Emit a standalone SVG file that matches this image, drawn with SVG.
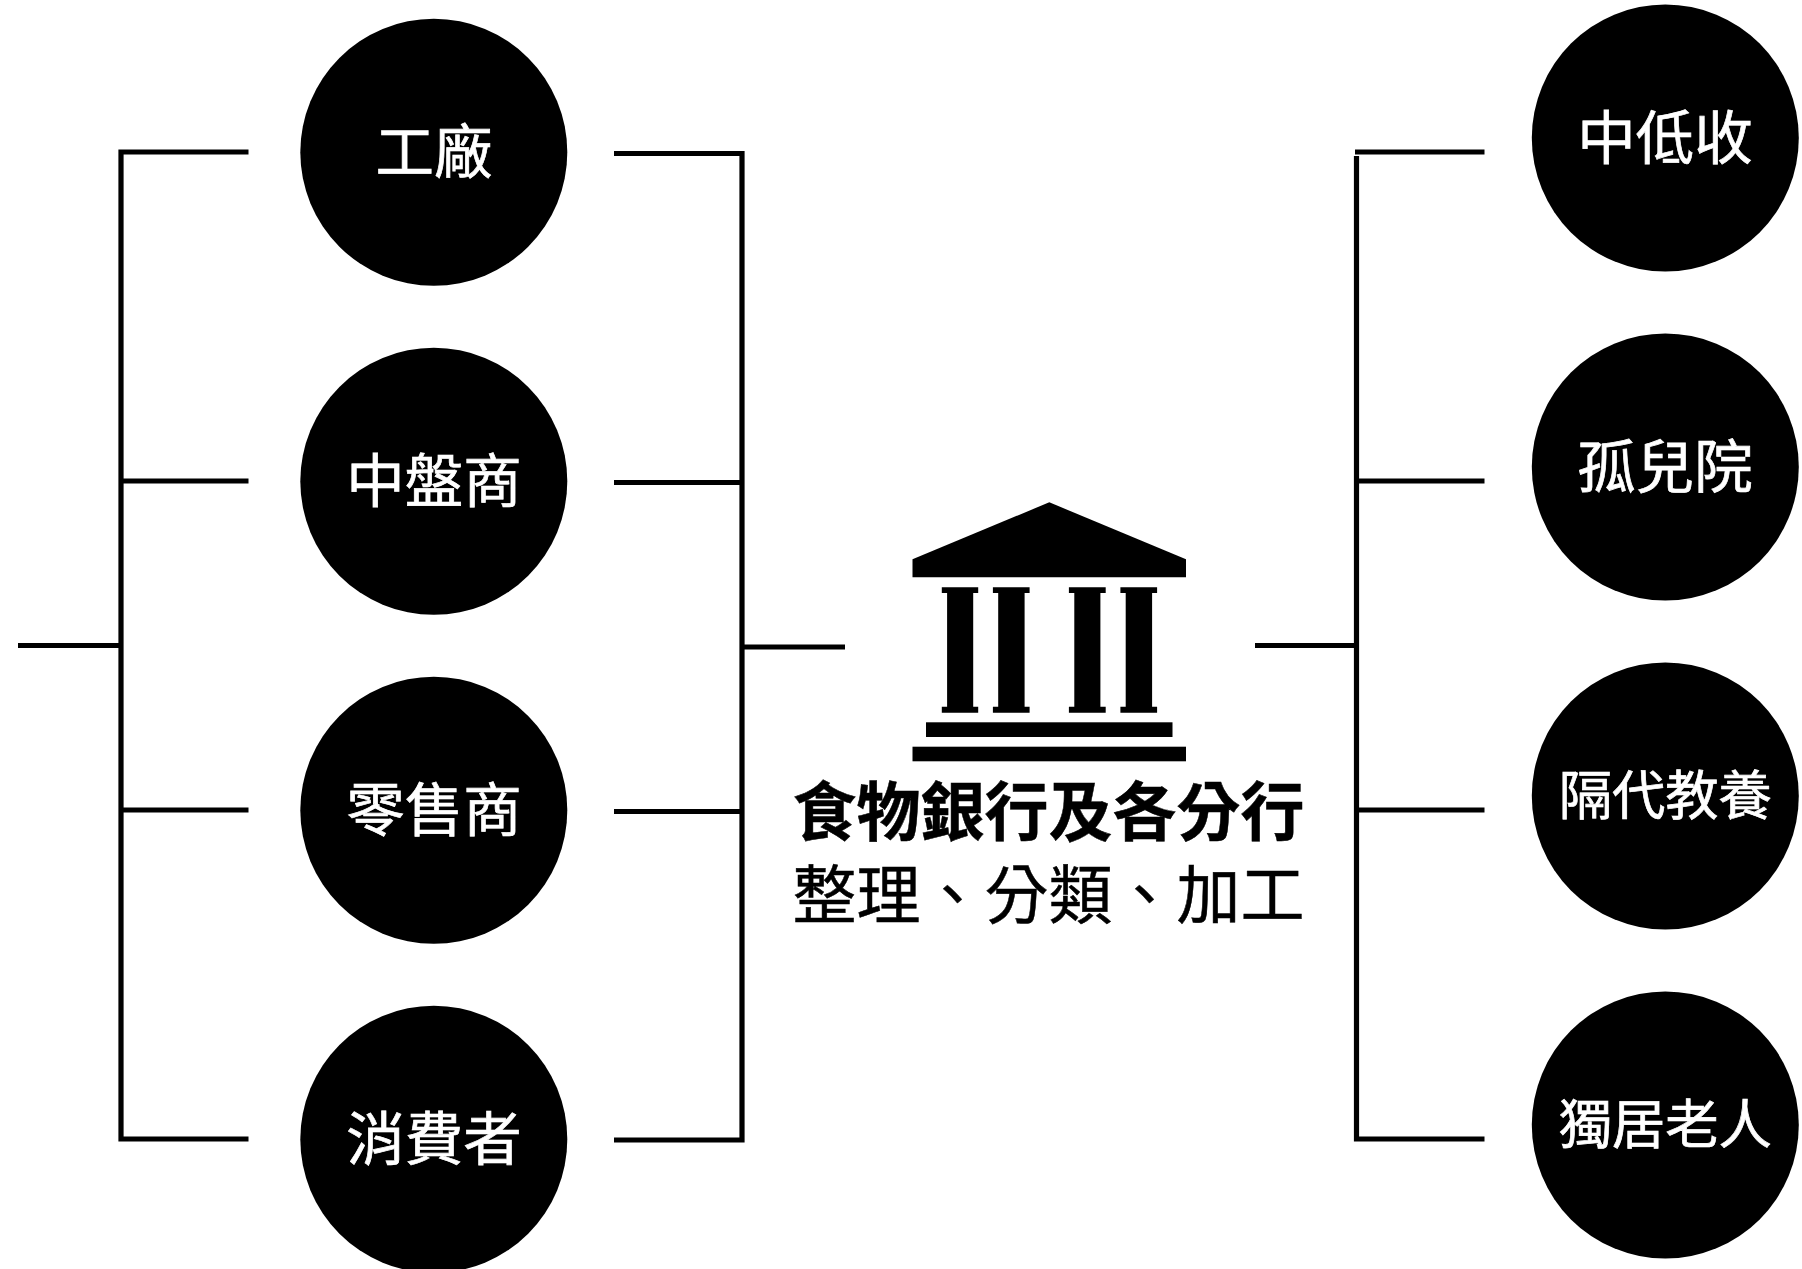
<svg xmlns="http://www.w3.org/2000/svg" width="1802" height="1269" viewBox="0 0 1802 1269">
<style>
.c{fill:#000}
.l{fill:none;stroke:#000;stroke-width:5.200}
text{font-family:"Noto Sans CJK TC","Noto Sans CJK SC",sans-serif;text-anchor:middle}
.n{fill:#fff;stroke:#fff;stroke-width:.7px;font-size:58.500px}
.s{fill:#fff;stroke:#fff;stroke-width:.7px;font-size:53.300px}
.t{fill:#000;font-size:64px}
.r{stroke:#000;stroke-width:.5px}
</style>
<rect width="1802" height="1269" fill="#fff"/>
<g id="connectors" class="l">
<path d="M18 645.500H121M248.500 152H121V1139H248.500M121 481H248.500M121 810H248.500"/>
<path d="M614 153.500H742V1140H614M614 482.500H742M614 811.500H742M742 647H845"/>
<path d="M1484.500 152H1355M1356.500 156V1139H1484.500M1356.500 481H1484.500M1356.500 810H1484.500M1255 645.500H1356.500"/>
</g>
<g id="n-factory"><circle class="c" cx="433.800" cy="152.300" r="133.500"/><text class="n" x="434" y="172.500">工廠</text></g>
<g id="n-wholesale"><circle class="c" cx="433.800" cy="481.300" r="133.500"/><text class="n" x="434" y="501.500">中盤商</text></g>
<g id="n-retail"><circle class="c" cx="433.800" cy="810.300" r="133.500"/><text class="n" x="434" y="830.500">零售商</text></g>
<g id="n-consumer"><circle class="c" cx="433.800" cy="1139.300" r="133.500"/><text class="n" x="434" y="1159.500">消費者</text></g>
<g id="n-lowincome"><circle class="c" cx="1665.300" cy="138" r="133.500"/><text class="n" x="1665" y="158.500">中低收</text></g>
<g id="n-orphanage"><circle class="c" cx="1665.300" cy="467" r="133.500"/><text class="n" x="1665" y="487.500">孤兒院</text></g>
<g id="n-skipgen"><circle class="c" cx="1665.300" cy="796" r="133.500"/><text class="s" x="1665.300" y="815">隔代教養</text></g>
<g id="n-elderly"><circle class="c" cx="1665.300" cy="1125" r="133.500"/><text class="s" x="1665.300" y="1144">獨居老人</text></g>
<g id="n-foodbank">
<path class="c" d="M1049.300 502.300L1186 559.300V577.300H912.500V559.300Z"/>
<path class="c" d="M941.800 587.300H978.200V593H973.200V706.700H978.200V712.700H941.800V706.700H947.100V593H941.800Z"/>
<path class="c" d="M992.900 587.300H1029.600V593H1024.600V706.700H1029.600V712.700H992.900V706.700H998.200V593H992.900Z"/>
<path class="c" d="M1068.900 587.300H1105.700V593H1100.400V706.700H1105.700V712.700H1068.900V706.700H1074.300V593H1068.900Z"/>
<path class="c" d="M1120.400 587.300H1157.100V593H1152.100V706.700H1157.100V712.700H1120.400V706.700H1125.700V593H1120.400Z"/>
<rect class="c" x="926" y="722.300" width="246.500" height="14.700"/>
<rect class="c" x="912.500" y="746.700" width="273.500" height="14.600"/>
<text class="t r" x="1048.500" y="835" font-weight="700">食物銀行及各分行</text>
<text class="t r" x="1048.500" y="918">整理、分類、加工</text>
</g>
</svg>
